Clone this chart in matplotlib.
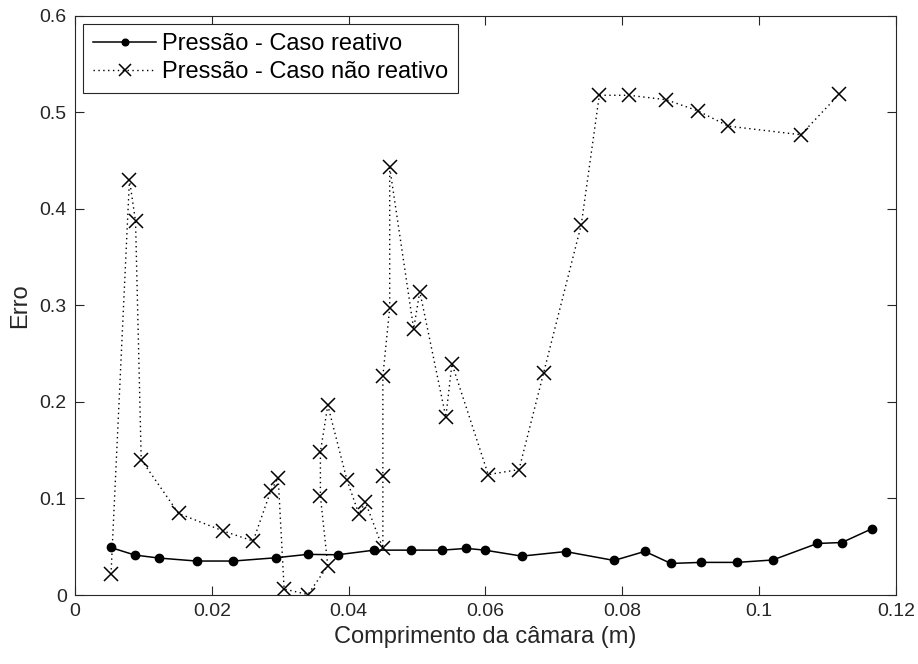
import numpy as np
import matplotlib
matplotlib.use('Agg')
from matplotlib import pyplot as plt

plt.rcParams['font.family'] = ['Liberation Sans', 'DejaVu Sans']

# caso reativo
x_reat = [0.00519, 0.00875, 0.01226, 0.01776, 0.02312, 0.02936, 0.0340, 0.0384,
          0.04374, 0.0491, 0.0537, 0.0572, 0.0599, 0.0653, 0.0717, 0.0788,
          0.0833, 0.0871, 0.0915, 0.0968, 0.1020, 0.1085, 0.1121, 0.1165]
y_reat = [0.0493, 0.0414, 0.0383, 0.0352, 0.0352, 0.0386, 0.0421, 0.0417,
          0.0465, 0.0465, 0.0465, 0.0483, 0.0465, 0.0403, 0.0450, 0.0358,
          0.0452, 0.0327, 0.0338, 0.0338, 0.0363, 0.0534, 0.0544, 0.0687]

# caso nao reativo
x_nreat = [0.00526, 0.00796, 0.00885, 0.00968, 0.01514, 0.02157, 0.02604, 0.0286,
           0.0297, 0.03057, 0.03405, 0.03695, 0.03587, 0.03587, 0.03695, 0.03976,
           0.0415, 0.04244, 0.045, 0.045, 0.045, 0.046, 0.046, 0.0495,
           0.0504, 0.0542, 0.0551, 0.0604, 0.0649, 0.0685, 0.0740, 0.07664,
           0.0810, 0.0864, 0.0910, 0.0955, 0.1061, 0.1117]
y_nreat = [0.0214, 0.4303, 0.3872, 0.1403, 0.0845, 0.0666, 0.0559, 0.1076,
           0.1214, 0.0062, 0.0005, 0.0303, 0.1024, 0.1483, 0.1966, 0.1189,
           0.0838, 0.0965, 0.0483, 0.123, 0.2268, 0.2975, 0.443, 0.2758,
           0.3144, 0.1844, 0.2396, 0.1248, 0.130, 0.2303, 0.3837, 0.5178,
           0.5178, 0.5132, 0.5018, 0.4858, 0.4769, 0.5189]

cinza = '#262626'

fig = plt.figure(figsize=(9.18, 6.64), dpi=100)
ax = fig.add_axes([0.0817, 0.1039, 0.8943, 0.8721])

ax.plot(x_reat, y_reat, '-', color='k', lw=1.1, marker='o', ms=6,
        label='Pressão - Caso reativo')
ax.plot(x_nreat, y_nreat, color='k', lw=1.0, ls=(0, (1, 2.5)), marker='x',
        ms=10, mew=1.1, label='Pressão - Caso não reativo')

ax.set_xlim(0, 0.12)
ax.set_ylim(0, 0.6)
ax.set_xticks(np.arange(0, 0.121, 0.02))
ax.set_xticklabels(['0', '0.02', '0.04', '0.06', '0.08', '0.1', '0.12'])
ax.set_yticks(np.arange(0, 0.61, 0.1))
ax.set_yticklabels(['0', '0.1', '0.2', '0.3', '0.4', '0.5', '0.6'])
ax.tick_params(direction='in', length=6.5, width=0.8, top=True, right=True,
               labelsize=14, colors=cinza, pad=6)
for s in ax.spines.values():
    s.set_color(cinza)
    s.set_linewidth(0.8)

ax.set_xlabel('Comprimento da câmara (m)', fontsize=17, color=cinza, labelpad=4)
ax.set_ylabel('Erro', fontsize=17, color=cinza, labelpad=6)

leg = ax.legend(loc='upper left', bbox_to_anchor=(0.0101, 0.986), borderaxespad=0,
                fontsize=17, fancybox=False, framealpha=1, edgecolor=cinza,
                handlelength=2.7, handletextpad=0.25, borderpad=0.4,
                labelspacing=0.25, markerscale=0.8)
leg.get_frame().set_linewidth(0.8)

fig.savefig('out.png', dpi=100)
